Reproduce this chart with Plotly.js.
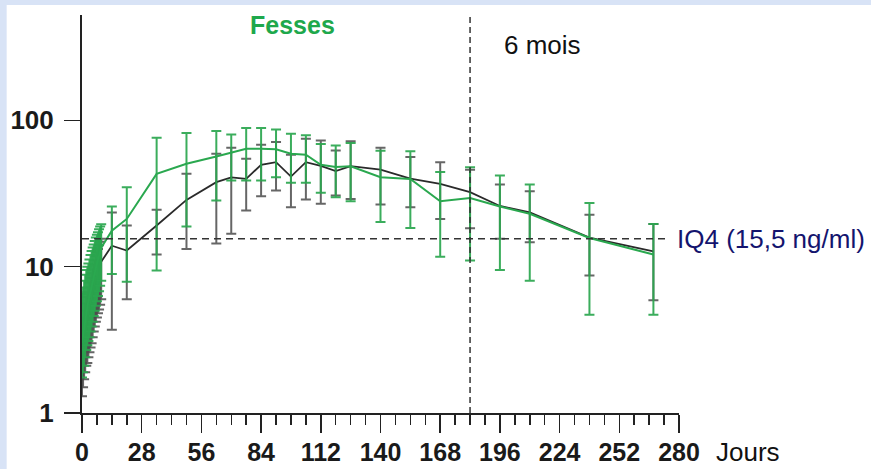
<!DOCTYPE html>
<html><head><meta charset="utf-8">
<script src="https://cdn.plot.ly/plotly-3.0.1.min.js"></script>
<style>html,body{margin:0;padding:0;background:#fff}#chart{width:871px;height:469px}</style>
</head><body><div id="chart"></div>
<script>
// Days (x)
const days = [0, 0.5, 1, 1.5, 2, 2.5, 3, 3.5, 4, 4.5, 5, 5.5, 6, 6.5, 7, 7.5, 8, 8.5, 9, 14, 21, 35, 49, 63, 70, 77, 84, 91, 98, 105, 112, 119, 126, 140, 154, 168, 182, 196, 210, 238, 268];

// Black series (ng/ml): mean, upper bound, lower bound
const blackMean  = [2.2, 2.5, 2.8, 3.2, 3.6, 3.9, 4.3, 4.7, 5.1, 5.5, 6.0, 6.5, 7.0, 7.6, 8.2, 8.8, 9.5, 10.1, 10.8, 13.9, 12.9, 19.1, 28.6, 37.8, 40.8, 39.8, 49.7, 51.8, 41.3, 51.8, 48.9, 45.0, 48.6, 46.0, 40.0, 36.8, 32.3, 26.0, 23.5, 15.8, 12.7];
const blackUpper = [4.0, 4.5, 5.0, 5.6, 6.2, 6.7, 7.2, 7.8, 8.4, 9.0, 9.6, 10.3, 11.0, 11.8, 12.5, 13.2, 14.0, 14.8, 15.5, 23.5, 19.1, 24.5, 43.1, 59.2, 65.0, 54.7, 68.2, 71.0, 58.2, 74.9, 72.9, 62.3, 72.0, 65.0, 56.1, 51.8, 45.9, 36.5, 32.8, 22.6, 19.6];
const blackLower = [1.3, 1.5, 1.7, 1.9, 2.1, 2.2, 2.4, 2.6, 2.8, 3.0, 3.3, 3.6, 3.9, 4.2, 4.5, 4.8, 5.1, 5.5, 6.0, 3.7, 6.0, 12.1, 13.2, 14.4, 16.8, 24.2, 30.3, 33.2, 25.5, 28.8, 26.9, 30.6, 29.0, 26.6, 25.5, 21.2, 18.3, 15.5, 14.7, 8.7, 5.9];

// Green series (Fesses)
const greenMean  = [3.0, 3.4, 3.8, 4.3, 4.9, 5.3, 5.8, 6.3, 6.8, 7.4, 8.0, 8.6, 9.2, 9.8, 10.5, 11.2, 12.0, 12.7, 13.5, 17.6, 21.2, 43.1, 50.5, 56.7, 60.6, 64.0, 64.0, 63.5, 59.2, 58.2, 49.7, 48.0, 48.6, 40.9, 39.8, 28.0, 29.5, 25.8, 23.0, 15.7, 12.1];
const greenUpper = [6.5, 7.2, 8.0, 8.8, 9.5, 10.0, 10.5, 11.2, 12.0, 12.8, 13.5, 14.2, 15.0, 15.8, 16.5, 17.2, 18.0, 18.8, 19.5, 25.8, 34.9, 76.0, 82.0, 84.5, 80.0, 88.6, 88.6, 86.7, 81.0, 79.0, 69.0, 67.4, 70.0, 62.0, 61.6, 44.3, 47.9, 42.0, 36.5, 27.2, 19.6];
const greenLower = [1.75, 1.9, 2.1, 2.4, 2.7, 2.9, 3.1, 3.3, 3.6, 3.9, 4.2, 4.6, 5.0, 5.4, 5.8, 6.3, 6.8, 7.4, 8.0, 8.9, 7.9, 9.4, 18.8, 28.3, 38.8, 38.8, 38.8, 40.9, 37.4, 37.4, 32.0, 29.8, 28.0, 20.2, 18.4, 11.7, 11.0, 9.5, 8.0, 4.7, 4.7];

// Reference levels and labels
const iq4 = 15.5;
const sixMonths = 182;
const xTickVals = [0, 28, 56, 84, 112, 140, 168, 196, 224, 252, 280];
const yTickVals = [1, 10, 100];

function up(m, u) { return u.map((v, i) => v - m[i]); }
function dn(m, l) { return l.map((v, i) => m[i] - v); }

const traces = [
  {
    x: days, y: blackMean, type: 'scatter', mode: 'lines', name: 'Total',
    line: {color: '#2a2a2a', width: 1.8},
    error_y: {type: 'data', symmetric: false, array: up(blackMean, blackUpper), arrayminus: dn(blackMean, blackLower),
              color: 'rgba(75,75,75,0.85)', thickness: 2, width: 5}
  },
  {
    x: days, y: greenMean, type: 'scatter', mode: 'lines', name: 'Fesses',
    line: {color: '#2aa84f', width: 2},
    error_y: {type: 'data', symmetric: false, array: up(greenMean, greenUpper), arrayminus: dn(greenMean, greenLower),
              color: 'rgba(42,166,78,0.92)', thickness: 2, width: 5}
  }
];

const axisColor = '#222';
const layout = {
  width: 871, height: 469,
  margin: {l: 82, r: 192, t: 15, b: 56, pad: 0},
  paper_bgcolor: '#ffffff', plot_bgcolor: 'rgba(0,0,0,0)',
  showlegend: false,
  xaxis: {
    range: [0, 280], showgrid: false, zeroline: false, automargin: false,
    showline: true, linecolor: axisColor, linewidth: 2,
    tickmode: 'array', tickvals: xTickVals, ticktext: xTickVals.map(String),
    ticks: 'outside', ticklen: 18, tickwidth: 1.5, tickcolor: axisColor,
    ticklabelstandoff: -2,
    minor: {dtick: 7, tick0: 0, ticks: 'outside', ticklen: 10, tickwidth: 1.5, tickcolor: axisColor, showgrid: false},
    tickfont: {family: 'Liberation Sans Narrow, Liberation Sans, Arial, sans-serif', size: 25, weight: 'bold', color: '#1a1a1a'}
  },
  yaxis: {
    type: 'log', range: [0, 2.72], showgrid: false, zeroline: false, automargin: false,
    showline: true, linecolor: axisColor, linewidth: 2,
    tickmode: 'array', tickvals: yTickVals, ticktext: yTickVals.map(String),
    ticks: 'outside', ticklen: 16, tickwidth: 1.5, tickcolor: axisColor,
    ticklabelstandoff: 5,
    tickfont: {family: 'Liberation Sans, Arial, sans-serif', size: 26, weight: 'bold', color: '#1a1a1a'}
  },
  shapes: [
    {type: 'rect', xref: 'paper', yref: 'paper', x0: -0.2, x1: -0.1262, y0: -0.2, y1: 1.05, layer: 'below',
     fillcolor: '#d8e3f6', line: {width: 0}},
    {type: 'rect', xref: 'paper', yref: 'paper', x0: -0.2, x1: 1.4, y0: 1.0251, y1: 1.05, layer: 'below',
     fillcolor: '#d8e3f6', line: {width: 0}},
    {type: 'line', xref: 'x', yref: 'paper', x0: sixMonths, x1: sixMonths, y0: 0, y1: 1,
     line: {color: '#333', width: 1.5, dash: '6px,4px'}},
    {type: 'line', xref: 'x', yref: 'y', x0: 0, x1: 275, y0: iq4, y1: iq4,
     line: {color: '#333', width: 1.5, dash: '7px,5px'}}
  ],
  annotations: [
    {text: 'Fesses', xref: 'x', yref: 'paper', x: 98.5, y: 0.975, showarrow: false, xanchor: 'center', yanchor: 'middle',
     font: {family: 'Liberation Sans, Arial, sans-serif', size: 25, weight: 'bold', color: '#1ea84c'}},
    {text: '6 mois', xref: 'x', yref: 'paper', x: 216, y: 0.925, showarrow: false, xanchor: 'center', yanchor: 'middle',
     font: {family: 'Liberation Sans, Arial, sans-serif', size: 26, color: '#111'}},
    {text: 'IQ4 (15,5 ng/ml)', xref: 'paper', yref: 'y', x: 0.994, y: Math.log10(iq4), showarrow: false, xanchor: 'left', yanchor: 'middle',
     font: {family: 'Liberation Sans, Arial, sans-serif', size: 26, color: '#14146e'}},
    {text: 'Jours', xref: 'paper', yref: 'paper', x: 1.058, y: -0.098, showarrow: false, xanchor: 'left', yanchor: 'middle',
     font: {family: 'Liberation Sans, Arial, sans-serif', size: 26, color: '#111'}}
  ]
};

Plotly.newPlot('chart', traces, layout, {staticPlot: true, displayModeBar: false});
</script>
</body></html>
